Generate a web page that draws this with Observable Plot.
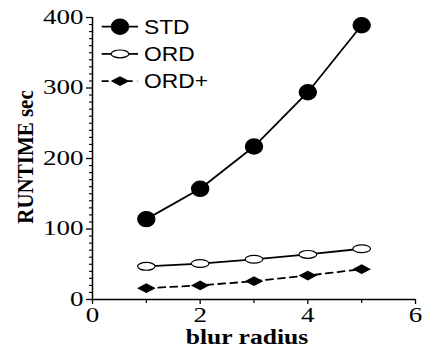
<!DOCTYPE html>
<html>
<head>
<meta charset="utf-8">
<script src="https://cdn.jsdelivr.net/npm/d3@7"></script>
<script src="https://cdn.jsdelivr.net/npm/@observablehq/plot@0.6"></script>
<style>
  html, body { margin: 0; padding: 0; background: white; }
  #chart { width: 430px; height: 352px; }
</style>
</head>
<body>
<div id="chart"></div>
<script>
// ---- data ----
const blurRadius = [1, 2, 3, 4, 5];
const stdRuntime = [114, 157, 217, 294, 389];
const ordRuntime = [47, 51, 57, 64, 72];
const ordPlusRuntime = [16, 20, 26, 34, 43];
const seriesNames = ["STD", "ORD", "ORD+"];
const xTicks = [0, 2, 4, 6];
const xMinorTicks = [1, 3, 5];
const yTicks = [0, 100, 200, 300, 400];
const yMinorTicks = d3.range(0, 401, 10).filter(v => v % 100 !== 0);
const xLabel = "blur radius";
const yLabel = "RUNTIME sec";

// ---- symbols ----
function ellipseSymbol(rx, ry) {
  const k = 0.5523;
  return {
    draw(c) {
      c.moveTo(rx, 0);
      c.bezierCurveTo(rx, ry * k, rx * k, ry, 0, ry);
      c.bezierCurveTo(-rx * k, ry, -rx, ry * k, -rx, 0);
      c.bezierCurveTo(-rx, -ry * k, -rx * k, -ry, 0, -ry);
      c.bezierCurveTo(rx * k, -ry, rx, -ry * k, rx, 0);
      c.closePath();
    }
  };
}
function diamondSymbol(w, h) {
  return {
    draw(c) {
      c.moveTo(w, 0); c.lineTo(0, h); c.lineTo(-w, 0); c.lineTo(0, -h); c.closePath();
    }
  };
}
const styles = {
  "STD": {symbol: ellipseSymbol(8.6, 7.6), fill: "black", dash: null},
  "ORD": {symbol: ellipseSymbol(8.8, 3.9), fill: "white", dash: null},
  "ORD+": {symbol: diamondSymbol(8, 4.2), fill: "black", dash: "7,5"}
};
const valuesBySeries = {"STD": stdRuntime, "ORD": ordRuntime, "ORD+": ordPlusRuntime};
const rows = seriesNames.flatMap(s => blurRadius.map((x, i) => ({series: s, x, y: valuesBySeries[s][i]})));

const fmt = d => String(d);
const marks = [
  Plot.axisX({ticks: xTicks, tickFormat: fmt, tickSize: 5, tickPadding: 3, label: null, strokeWidth: 1.3}),
  Plot.axisX({ticks: xMinorTicks, tickSize: 4, tickFormat: () => "", label: null, strokeWidth: 1.2}),
  Plot.axisY({ticks: yTicks, tickFormat: fmt, tickSize: 6, tickPadding: 3, label: null, strokeWidth: 1.3}),
  Plot.axisY({ticks: yMinorTicks, tickSize: 3, tickFormat: () => "", label: null, strokeWidth: 1.1}),
  Plot.ruleX([0], {stroke: "black", strokeWidth: 1.5}),
  Plot.ruleY([0], {stroke: "black", strokeWidth: 1.5})
];
for (const s of seriesNames) {
  const data = rows.filter(d => d.series === s);
  marks.push(Plot.line(data, {x: "x", y: "y", stroke: "black", strokeWidth: 1.8, strokeDasharray: styles[s].dash}));
  marks.push(Plot.dot(data, {x: "x", y: "y", symbol: styles[s].symbol, fill: styles[s].fill, stroke: "black", strokeWidth: 1.2}));
}

const chart = Plot.plot({
  width: 430, height: 352,
  marginLeft: 92, marginRight: 15, marginTop: 17, marginBottom: 53,
  style: {fontFamily: "'Liberation Serif', 'Times New Roman', serif", fontSize: "20px", color: "black", background: "white", overflow: "visible"},
  x: {domain: [0, 6]},
  y: {domain: [0, 400]},
  marks
});
document.getElementById("chart").appendChild(chart);

const svg = d3.select(chart);
// horizontally stretched tick labels
svg.selectAll('g[aria-label$="tick label"] text').each(function() {
  const t = d3.select(this);
  t.attr("transform", (t.attr("transform") || "") + " scale(1.35,1)");
});

// axis labels
svg.append("text")
  .attr("transform", "translate(247,344) scale(1.28,1)")
  .attr("text-anchor", "middle")
  .style("font-family", "'Liberation Serif', serif")
  .style("font-weight", "bold").style("font-size", "20px")
  .text(xLabel);
svg.append("text")
  .attr("transform", "translate(33,157) rotate(-90) scale(1,1.1)")
  .attr("text-anchor", "middle")
  .style("font-family", "'Liberation Serif', serif")
  .style("font-weight", "bold").style("font-size", "21px")
  .text(yLabel);

// legend
const legend = svg.append("g");
seriesNames.forEach((s, i) => {
  const cy = 26.7 + i * 27.2;
  legend.append("line").attr("x1", 101.7).attr("x2", 138).attr("y1", cy).attr("y2", cy)
    .attr("stroke", "black").attr("stroke-width", 1.8).attr("stroke-dasharray", styles[s].dash);
  const p = d3.path(); styles[s].symbol.draw(p);
  legend.append("path").attr("d", p.toString()).attr("transform", `translate(120,${cy})`)
    .attr("fill", styles[s].fill).attr("stroke", "black").attr("stroke-width", 1.2);
  legend.append("text").attr("transform", `translate(144,${cy + 7}) scale(1.14,1)`)
    .attr("text-anchor", "start")
    .style("font-family", "'Liberation Sans', Arial, sans-serif").style("font-size", "20px")
    .text(s);
});
</script>
</body>
</html>
